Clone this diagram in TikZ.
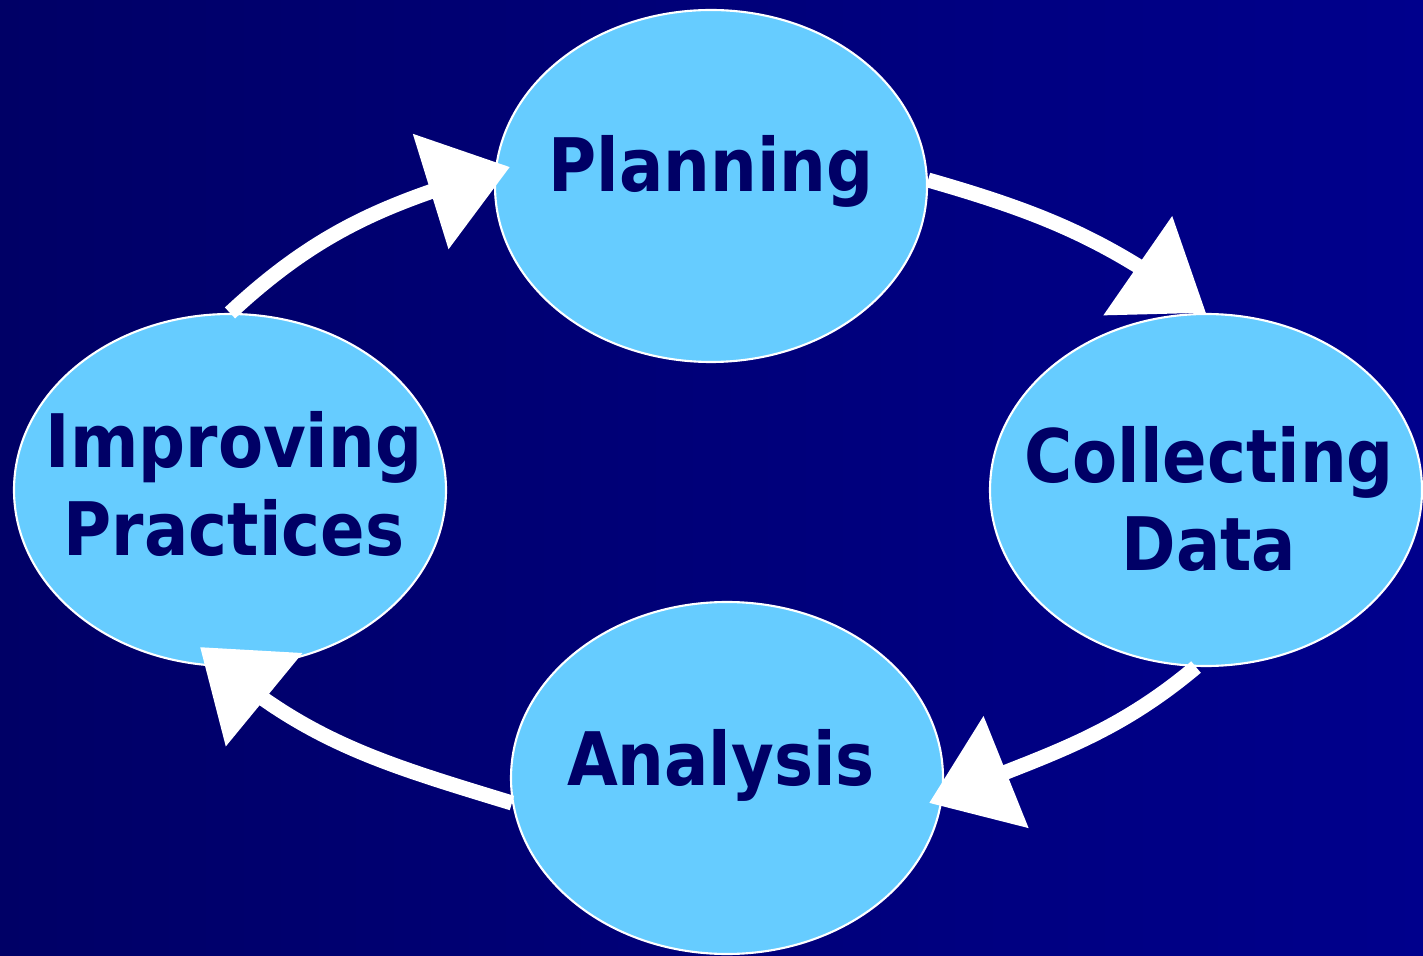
\documentclass[tikz,border=0pt]{standalone}
\usepackage{fontspec}
\setmainfont[FakeStretch=0.89]{DejaVu Sans}
\usetikzlibrary{shapes.geometric,arrows.meta,bending}
\definecolor{navyleft}{RGB}{0,0,102}
\definecolor{navyright}{RGB}{0,0,140}
\definecolor{bubble}{RGB}{102,204,255}
\definecolor{ink}{RGB}{0,0,102}
\tikzset{
  stage/.style={ellipse, draw=white, line width=0.6pt, fill=bubble,
    minimum width=4.32cm, minimum height=3.52cm},
  word/.style={text=ink, font=\fontsize{21}{25}\selectfont\bfseries, align=center},
  flow/.style={draw=white, line width=0.15cm,
    -{Triangle[length=0.83cm,width=1.17cm,fill=white,flex]}},
}
\begin{document}
\begin{tikzpicture}
\useasboundingbox (0,0) rectangle (14.23,9.55);
\shade[left color=navyleft, right color=navyright] (0,0) rectangle (14.23,9.55);

\node[stage] (plan) at (7.11,7.69) {};
\node[stage] (coll) at (12.06,4.65) {};
\node[stage] (impr) at (2.30,4.65) {};
\node[stage] (anal) at (7.27,1.77) {};

\node[word, anchor=base] (planw) at ([yshift=-0.06cm]plan.center) {Planning};
\node[word, anchor=base] (collw) at ([xshift=0.03cm,yshift=-0.80cm]coll.center) {Collecting\\Data};
\node[word, anchor=base] (imprw) at ([xshift=0.04cm,yshift=-0.65cm]impr.center) {Improving\\Practices};
\node[word, anchor=base] (analw) at ([xshift=-0.06cm,yshift=-0.07cm]anal.center) {Analysis};

\draw[flow] (impr.north) to[out=43,in=196] ([shift={(0.16,0.19)}]plan.west);
\draw[flow] ([yshift=0.06cm]plan.east) to[out=-16,in=143] (coll.north);
\draw[flow] ([xshift=-0.1cm]coll.south) to[out=-140,in=23] ([shift={(-0.15,-0.25)}]anal.east);
\draw[flow] ([shift={(0.02,-0.25)}]anal.west) to[out=163,in=-43] ([shift={(-0.30,0.20)}]impr.south);
\end{tikzpicture}
\end{document}
